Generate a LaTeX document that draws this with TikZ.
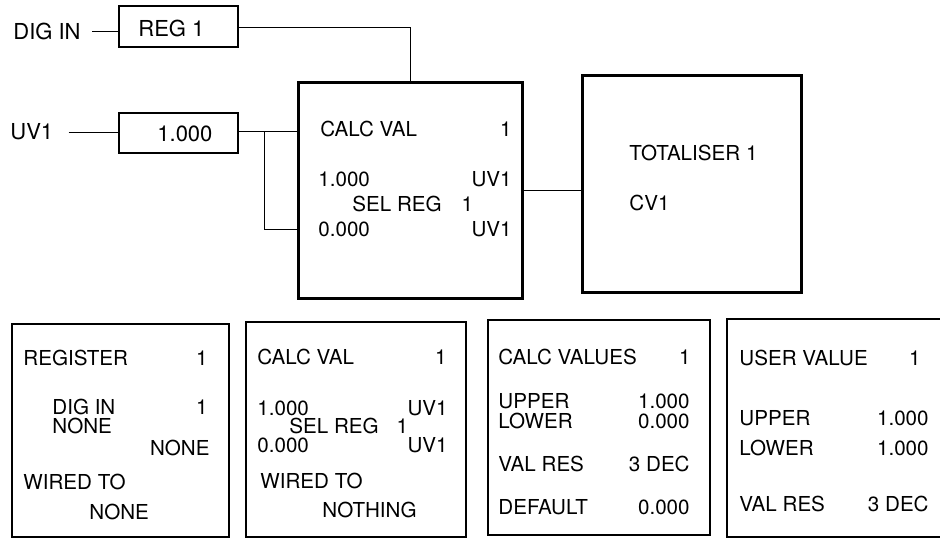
\documentclass[tikz,border=0pt]{standalone}
\usepackage{fontspec}
\setmainfont{TeX Gyre Heros}
\usetikzlibrary{fit,positioning}

\begin{document}
\begin{tikzpicture}[
  x=0.5pt, y=-0.5pt, font=\fontsize{10.3}{12}\selectfont,
  inbox/.style={draw, line width=0.7pt, inner sep=0pt},
  fnbox/.style={draw, line width=1.5pt, inner sep=0pt},
  pgbox/.style={draw, line width=1.2pt, inner sep=0pt},
  txl/.style={inner sep=0pt, anchor=west},
  txr/.style={inner sep=0pt, anchor=east},
  big/.style={font=\fontsize{11}{13}\selectfont},
  wire/.style={line width=0.5pt}
]
\useasboundingbox (0,0) rectangle (940,538);
\clip (0,0) rectangle (940,538);

% inputs
\node[txl, big] (digin) at (13,31) {DIG IN};
\node[inbox, fit={(119,6) (238,47)}] (reg) {};
\node[txl, big] (regt) at (138,28) {REG 1};
\node[txl, big] (uv) at (10,132) {UV1};
\node[inbox, fit={(119,113) (238,153)}] (ubox) {};
\node[txl, big] (ubt) at (157,134) {1.000};

% function blocks
\node[fnbox, fit={(298,82) (522,298)}] (calc) {};
\node[txl] (c1) at (320,129) {CALC VAL};
\node[txr] (c2) at (512,129) {1};
\node[txl] (c3) at (318,179) {1.000};
\node[txr] (c4) at (512,179) {UV1};
\node[txl] (c5) at (352,204) {SEL REG\hspace{10pt}1};
\node[txl] (c6) at (318,229) {0.000};
\node[txr] (c7) at (512,229) {UV1};

\node[fnbox, fit={(582,75) (801,292)}] (tot) {};
\node[txl] (t1) at (629,153) {TOTALISER 1};
\node[txl] (t2) at (629,203) {CV1};

% wiring
\coordinate (tap) at (410,27);
\coordinate (fork) at (264,131);
\coordinate (lo) at (264,229);
\draw[wire] ([xshift=5.5pt]digin.east) -- (digin.east -| reg.west);
\draw[wire] ([xshift=7.5pt]uv.east) -- (uv.east -| ubox.west);
\draw[wire] (reg.east |- tap) -- (tap) -- (tap |- calc.north);
\draw[wire] (ubox.east |- fork) -- (fork -| calc.west);
\draw[wire] (fork) -- (lo) -- (lo -| calc.west);
\draw[wire] (calc.east) -- (calc.east -| tot.west);

% parameter pages
\node[pgbox, fit={(12,324) (229,537)}] (pg1) {};
\node[txl] (a1) at (23,358) {REGISTER};
\node[txr] (a2) at (208,358) {1};
\node[txl] (a3) at (52,407) {DIG IN};
\node[txr] (a4) at (208,407) {1};
\node[txl] (a5) at (52,426) {NONE};
\node[txr] (a6) at (210,448) {NONE};
\node[txl] (a7) at (23,482) {WIRED TO};
\node[txl] (a8) at (89,512) {NONE};

\node[pgbox, fit={(246,322) (466,537)}] (pg2) {};
\node[txl] (b1) at (257,357) {CALC VAL};
\node[txr] (b2) at (447,357) {1};
\node[txl] (b3) at (257,408) {1.000};
\node[txr] (b4) at (448,408) {UV1};
\node[txl] (b5) at (289,426) {SEL REG\hspace{9pt}1};
\node[txl] (b6) at (257,445) {0.000};
\node[txr] (b7) at (448,445) {UV1};
\node[txl] (b8) at (260,481) {WIRED TO};
\node[txl] (b9) at (322,510) {NOTHING};

\node[pgbox, fit={(488,320) (710,535)}] (pg3) {};
\node[txl] (d1) at (498,357) {CALC VALUES};
\node[txr] (d2) at (691,357) {1};
\node[txl] (d3) at (498,401) {UPPER};
\node[txr] (d4) at (690,401) {1.000};
\node[txl] (d5) at (498,421) {LOWER};
\node[txr] (d6) at (690,421) {0.000};
\node[txl] (d7) at (498,464) {VAL RES};
\node[txr] (d8) at (690,464) {3 DEC};
\node[txl] (d9) at (498,507) {DEFAULT};
\node[txr] (d10) at (690,507) {0.000};

\node[pgbox, fit={(727,319) (950,537)}] (pg4) {};
\node[txl] (e1) at (739,358) {USER VALUE};
\node[txr] (e2) at (921,358) {1};
\node[txl] (e3) at (739,418) {UPPER};
\node[txr] (e4) at (929,418) {1.000};
\node[txl] (e5) at (739,448) {LOWER};
\node[txr] (e6) at (929,448) {1.000};
\node[txl] (e7) at (739,504) {VAL RES};
\node[txr] (e8) at (929,504) {3 DEC};
\end{tikzpicture}
\end{document}
